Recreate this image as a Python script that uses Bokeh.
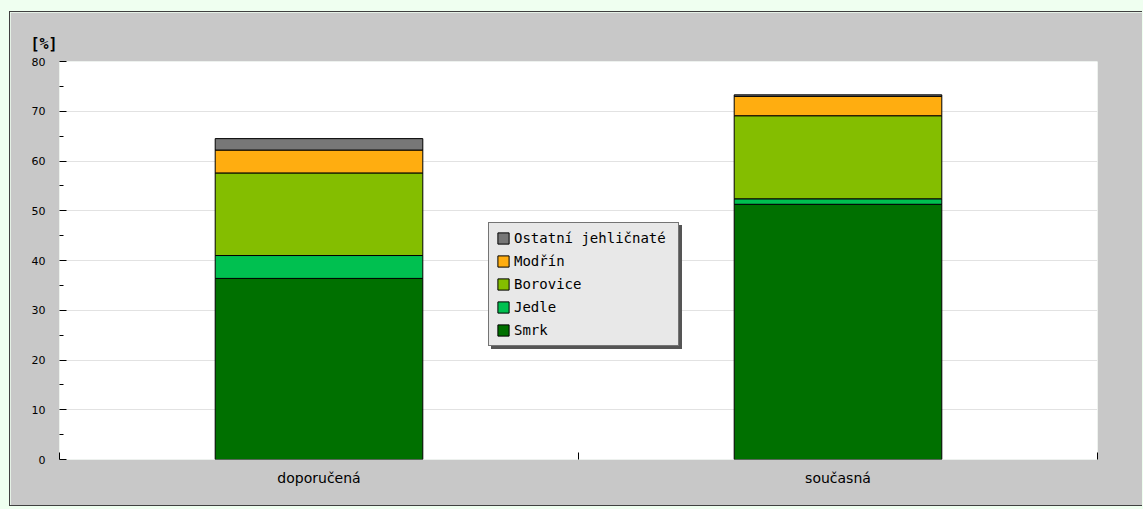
from bokeh.plotting import figure
from bokeh.models import ColumnDataSource, FixedTicker, Legend, LegendItem, Title
from bokeh.layouts import column
from bokeh.embed import file_html
from bokeh.resources import INLINE

categories = ["doporučená", "současná"]
species = ["Smrk", "Jedle", "Borovice", "Modřín", "Ostatní jehličnaté"]
smrk = [36.4, 51.3]
jedle = [4.6, 1.1]
borovice = [16.6, 16.7]
modrin = [4.6, 3.9]
ostatni = [2.3, 0.3]
colors = ["#007000", "#00c050", "#84be00", "#ffad10", "#777777"]
y_ticks = [0, 10, 20, 30, 40, 50, 60, 70, 80]
y_minor = [5, 15, 25, 35, 45, 55, 65, 75]
unit_label = "[%]"

keys = ["smrk", "jedle", "borovice", "modrin", "ostatni"]
xpos = [i + 0.5 for i in range(len(categories))]
source = ColumnDataSource(dict(x=xpos, smrk=smrk, jedle=jedle, borovice=borovice,
                               modrin=modrin, ostatni=ostatni))

p = figure(width=1133, height=495, x_range=(0, len(categories)), y_range=(0, 80),
           output_backend="svg", toolbar_location=None,
           border_fill_color="#c8c8c8", background_fill_color="#ffffff",
           outline_line_color=None,
           min_border_left=49, min_border_right=46, min_border_top=49, min_border_bottom=48,
           margin=(11, 0, 0, 9))
p.styles = {"border-top": "1px solid #404040", "border-left": "1px solid #404040",
            "border-bottom": "1px solid #404040"}

renderers = p.vbar_stack(keys, x="x", width=0.4, source=source,
                         fill_color=colors, line_color="#000000", line_width=1)

# title "[%]"
t = Title(text=unit_label, align="left", offset=-29, text_font="DejaVu Sans Mono",
          text_font_size="15px", text_font_style="bold", text_color="#000000", standoff=18)
p.add_layout(t, "above")

# axes
p.xaxis.ticker = FixedTicker(ticks=xpos, minor_ticks=[0, 1, 2])
p.xaxis.major_label_overrides = {xpos[i]: categories[i] for i in range(len(categories))}
p.xaxis.major_tick_in = 0
p.xaxis.major_tick_out = 0
p.xaxis.minor_tick_in = 7
p.xaxis.minor_tick_out = 0
p.xaxis.minor_tick_line_color = "#000000"
p.xaxis.axis_line_color = None
p.xaxis.major_label_standoff = 10
p.xaxis.major_label_text_font = "DejaVu Sans"
p.xaxis.major_label_text_font_size = "14px"
p.xaxis.major_label_text_color = "#000000"

p.yaxis.ticker = FixedTicker(ticks=y_ticks, minor_ticks=y_minor)
p.yaxis.major_tick_in = 7
p.yaxis.major_tick_out = 0
p.yaxis.minor_tick_in = 4
p.yaxis.minor_tick_out = 0
p.yaxis.major_tick_line_color = "#000000"
p.yaxis.minor_tick_line_color = "#000000"
p.yaxis.axis_line_color = None
p.yaxis.major_label_standoff = 14
p.yaxis.major_label_text_font = "DejaVu Sans"
p.yaxis.major_label_text_font_size = "11px"
p.yaxis.major_label_text_color = "#000000"

p.xgrid.visible = False
p.ygrid.grid_line_color = "#e2e2e2"

order = list(reversed(range(len(species))))

def make_legend(loc, shadow):
    if shadow:
        labels = ["\u00a0" * len(species[i]) for i in order]
    else:
        labels = [species[i] for i in order]
    items = [LegendItem(label=lab, renderers=[renderers[i]]) for lab, i in zip(labels, order)]
    lg = Legend(items=items, location=loc, orientation="vertical",
                glyph_width=14, glyph_height=14, label_height=16, label_width=157,
                label_standoff=4, spacing=7, padding=7, margin=0,
                label_text_font="DejaVu Sans Mono", label_text_font_size="14px",
                label_text_color="#000000",
                background_fill_color="#e8e8e8", background_fill_alpha=1,
                border_line_color="#000000", border_line_width=1)
    if shadow:
        lg.background_fill_color = "#555555"
        lg.border_line_color = "#555555"
    return lg

p.add_layout(make_legend((432, 110), True), "center")
p.add_layout(make_legend((429, 113), False), "center")

layout = column(p, width=1143, height=509, styles={"background-color": "#effff0"})

open("out.html", "w").write(file_html(layout, INLINE))
